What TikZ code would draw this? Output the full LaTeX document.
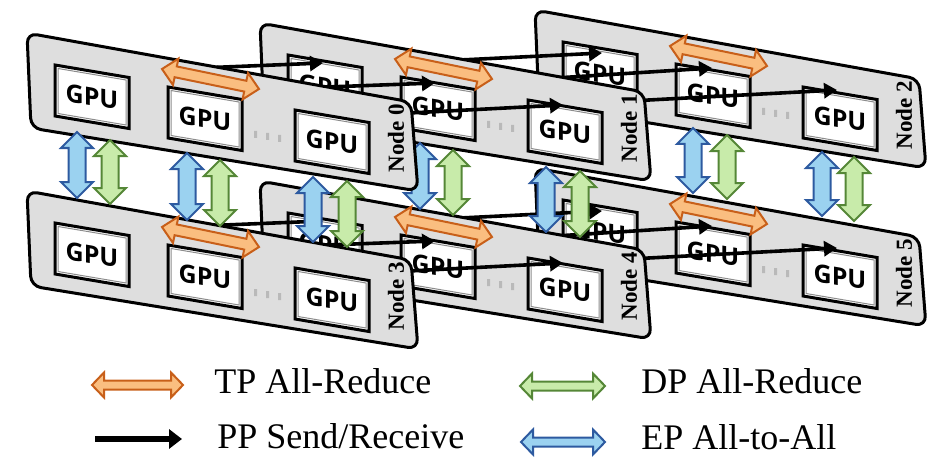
\documentclass[tikz,border=0pt]{standalone}
\usepackage{fontspec}
\setmainfont{Liberation Serif}
\newfontfamily\gpufont{Open Sans}
\usetikzlibrary{arrows.meta}

\definecolor{panelfill}{RGB}{222,222,222}
\definecolor{tpfill}{RGB}{250,190,128}
\definecolor{tpline}{RGB}{200,95,25}
\definecolor{epfill}{RGB}{155,210,240}
\definecolor{epline}{RGB}{45,90,160}
\definecolor{dpfill}{RGB}{200,235,170}
\definecolor{dpline}{RGB}{85,135,55}
\definecolor{dotgray}{RGB}{185,185,185}

\tikzset{
  panel/.style={fill=panelfill, draw=black, line width=1.5pt, rounded corners=5pt},
  gpubox/.style={fill=white, draw=black, line width=1.5pt, line join=miter},
  gpuinner/.style={draw=black!45, line width=0.5pt},
  gputext/.style={font={\gpufont\bfseries\fontsize{12.5}{14}\selectfont}, yslant=-0.17, inner sep=0pt},
  nodelabel/.style={font={\bfseries\fontsize{11.5}{13}\selectfont}, rotate=90, inner sep=0pt},
  tp/.style={fill=tpfill, draw=tpline, line width=1pt},
  ep/.style={fill=epfill, draw=epline, line width=1pt},
  dp/.style={fill=dpfill, draw=dpline, line width=1pt},
  pp/.style={draw=black, line width=1.8pt, -{Triangle[length=6.5pt,width=7.5pt]}},
  legendtext/.style={font={\fontsize{18}{20}\selectfont}, anchor=base west, inner sep=0pt},
}

% double-headed block arrow: style, shaft half-width, head half-width,
% head length, start x, start y, end x, end y
\newcommand\blockarrow[8]{%
  \pgfmathsetmacro\bal{veclen(#7-#5,#8-#6)}%
  \pgfmathsetmacro\baa{atan2(#6-#8,#7-#5)}%
  \filldraw[#1, shift={(#5,#6)}, rotate=\baa]
    (0,0) -- (#4,#3) -- (#4,#2) -- (\bal-#4,#2) -- (\bal-#4,#3) -- (\bal,0)
    -- (\bal-#4,-#3) -- (\bal-#4,-#2) -- (#4,-#2) -- (#4,-#3) -- cycle;}

% slanted GPU card: top-left corner x, y, name
\newcommand\gpucard[3]{%
  \draw[gpubox] (#1,#2) -- ++(74,12.5) -- ++(0,51) -- ++(-74,-12.5) -- cycle;
  \draw[gpuinner] ({#1+3},{#2+3.5}) -- ++(68,11.5) -- ++(0,45) -- ++(-68,-11.5) -- cycle;
  \node[gputext] (#3) at ({#1+37},{#2+31.75}) {GPU};}

% one server board with three GPUs: offset x, offset y, number
\newcommand\gpunode[3]{%
  \begin{scope}[shift={(#1,#2)}]
    \filldraw[panel] (27,33) -- (411,102) -- (418,191) -- (31,128) -- cycle;
    \gpucard{55}{65}{n#3a}
    \gpucard{168}{87}{n#3b}
    \gpucard{295}{110}{n#3c}
    \fill[dotgray] (254,131) rectangle ++(3,7) (266,133) rectangle ++(3,7)
                   (278,135) rectangle ++(3,7);
    \blockarrow{tp}{5.5}{13.5}{14}{162}{69}{259}{89}
    \node[nodelabel] (n#3) at (396,138) {Node #3};
  \end{scope}}

% EP (blue) and DP (green) links between an upper and a lower board
\newcommand\vpair[6]{%
  \blockarrow{ep}{8.5}{16}{16}{#1}{#2}{#1}{#3}
  \blockarrow{dp}{8.5}{16}{16}{#4}{#5}{#4}{#6}}

\begin{document}
\begin{tikzpicture}[x=0.5pt,y=-0.5pt]
\useasboundingbox (0,0) rectangle (942,460);

% back column
\gpunode{508}{-23}{2}
\gpunode{508}{135}{5}
\vpair{693}{128}{193}{727}{135}{199}
\vpair{822}{152}{216}{854}{157}{221}

% pipeline links from the middle column to the back column
\coordinate (p1s) at (440,61);  \coordinate (p1e) at (602,53);
\coordinate (p2s) at (540,79);  \coordinate (p2e) at (712,68);
\coordinate (p3s) at (630,101); \coordinate (p3e) at (837,90);
\coordinate (q1s) at (440,219); \coordinate (q1e) at (602,211);
\coordinate (q2s) at (540,237); \coordinate (q2e) at (712,226);
\coordinate (q3s) at (630,259); \coordinate (q3e) at (837,248);
\draw[pp] (p1s) -- (p1e);
\draw[pp] (p2s) -- (p2e);
\draw[pp] (p3s) -- (p3e);
\draw[pp] (q1s) -- (q1e);
\draw[pp] (q2s) -- (q2e);
\draw[pp] (q3s) -- (q3e);

% middle column
\gpunode{233}{148}{4}
\gpunode{233}{-10}{1}
\vpair{420}{143}{209}{453}{150}{215}
\vpair{546}{167}{232}{580}{171}{237}

% pipeline links from the front column to the middle column
\coordinate (r1s) at (200,68);  \coordinate (r1e) at (323,63);
\coordinate (r2s) at (300,88);  \coordinate (r2e) at (435,83);
\coordinate (r3s) at (390,114); \coordinate (r3e) at (563,105);
\coordinate (s1s) at (200,226); \coordinate (s1e) at (323,221);
\coordinate (s2s) at (300,246); \coordinate (s2e) at (435,241);
\coordinate (s3s) at (390,272); \coordinate (s3e) at (563,263);
\draw[pp] (r1s) -- (r1e);
\draw[pp] (r2s) -- (r2e);
\draw[pp] (r3s) -- (r3e);
\draw[pp] (s1s) -- (s1e);
\draw[pp] (s2s) -- (s2e);
\draw[pp] (s3s) -- (s3e);

% front column
\gpunode{0}{158}{3}
\gpunode{0}{0}{0}
\vpair{77}{132}{198}{110}{140}{204}
\vpair{187}{153}{220}{220}{160}{226}
\vpair{313}{177}{242}{347}{181}{247}

% legend
\blockarrow{tp}{4.5}{12.5}{12}{92}{385}{183}{385}
\node[legendtext] (ltp) at (214,393) {TP All-Reduce};
\coordinate (lpps) at (95,439); \coordinate (lppe) at (182,439);
\draw[pp, line width=2.6pt, -{Triangle[length=6.5pt,width=9.5pt]}] (lpps) -- (lppe);
\node[legendtext] (lpp) at (217,448) {PP Send/Receive};
\blockarrow{dp}{4.5}{12.5}{12}{520}{386}{605}{386}
\node[legendtext] (ldp) at (641,393) {DP All-Reduce};
\blockarrow{ep}{4.5}{12.5}{12}{521}{442}{605}{442}
\node[legendtext] (lep) at (641,449) {EP All-to-All};
\end{tikzpicture}
\end{document}
